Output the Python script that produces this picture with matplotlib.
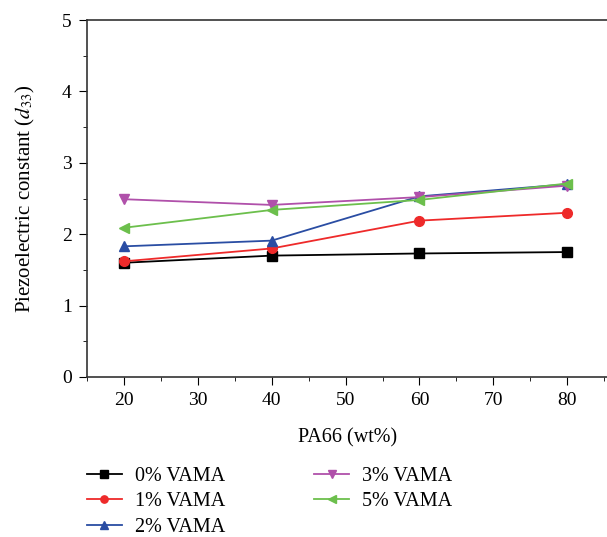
import matplotlib
matplotlib.use("Agg")
import matplotlib.pyplot as plt
from matplotlib.ticker import MultipleLocator

plt.rcParams['font.family'] = ['Liberation Serif', 'DejaVu Serif']
plt.rcParams['mathtext.fontset'] = 'stix'

# data
pa66 = [20, 40, 60, 80]
vama_0 = [1.60, 1.70, 1.73, 1.75]
vama_1 = [1.62, 1.80, 2.19, 2.30]
vama_2 = [1.83, 1.91, 2.53, 2.70]
vama_3 = [2.49, 2.41, 2.52, 2.68]
vama_5 = [2.09, 2.34, 2.48, 2.71]
labels = ['0% VAMA', '1% VAMA', '2% VAMA', '3% VAMA', '5% VAMA']

series = [vama_0, vama_1, vama_2, vama_3, vama_5]
colors = ['#000000', '#ee2a2a', '#2a4da3', '#b050aa', '#6cbf4c']
markers = ['s', 'o', '^', 'v', '<']

fig = plt.figure(figsize=(6.07, 5.37), dpi=100)
ax = fig.add_axes([0.1433, 0.298, 0.857, 0.6647])

for ys, c, m, lab in zip(series, colors, markers, labels):
    ax.plot(pa66, ys, color=c, marker=m, markersize=7, linewidth=1.3, label=lab)

ax.set_xlim(15, 85.4)
ax.set_ylim(0, 5)
ax.xaxis.set_major_locator(MultipleLocator(10))
ax.xaxis.set_minor_locator(MultipleLocator(5))
ax.yaxis.set_major_locator(MultipleLocator(1))
ax.yaxis.set_minor_locator(MultipleLocator(0.5))
ax.tick_params(which='both', direction='out', labelsize=14)
ax.tick_params(which='major', length=6, pad=5)
ax.tick_params(which='minor', length=3)
ax.spines['right'].set_visible(False)
for s in ['left', 'bottom', 'top']:
    ax.spines[s].set_linewidth(1.2)
    ax.spines[s].set_color('#333333')

ax.set_xlabel('PA66 (wt%)', fontsize=14.5, labelpad=14)
ax.set_ylabel('Piezoelectric constant ($d_{33}$)', fontsize=15, labelpad=18)

fig.legend(loc='upper left', bbox_to_anchor=(0.143, 0.13), ncol=2, frameon=False,
           fontsize=14.5, handlelength=1.75, handletextpad=0.65, columnspacing=4.4,
           labelspacing=0.3, borderaxespad=0, borderpad=0, markerscale=0.75)

plt.savefig('out.png', dpi=100)
